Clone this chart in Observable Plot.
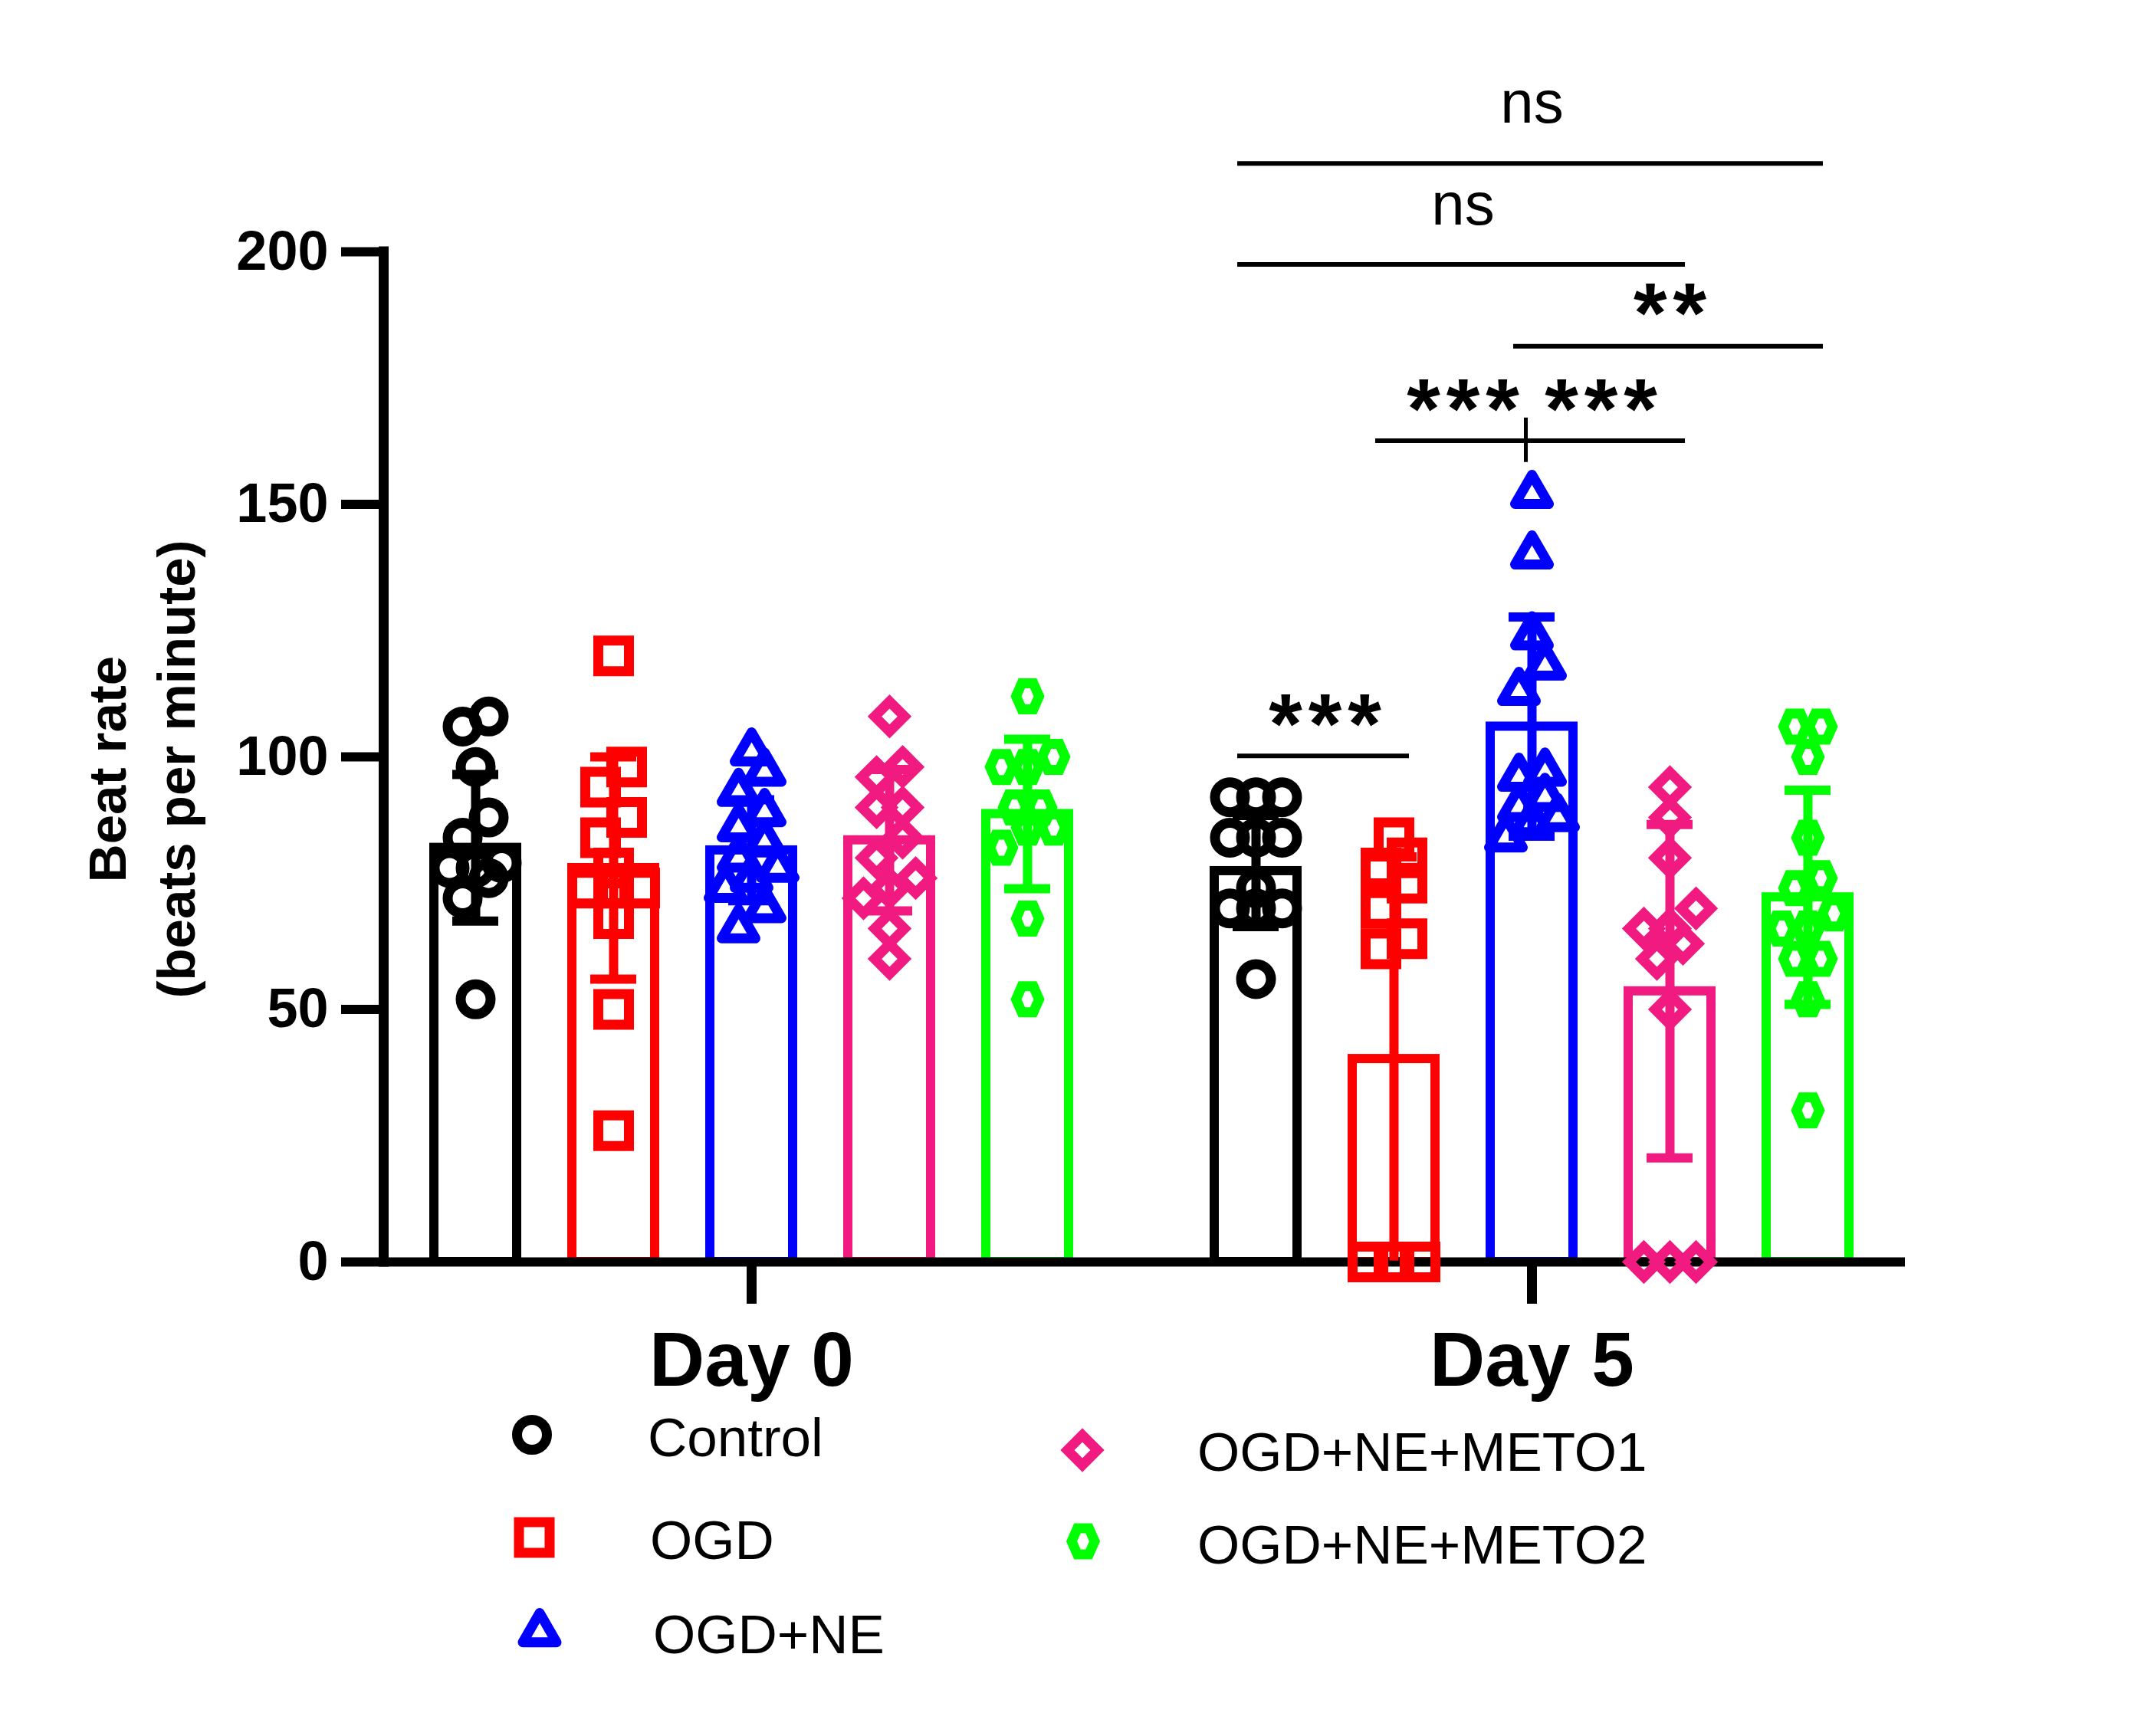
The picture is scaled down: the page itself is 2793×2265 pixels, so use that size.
<!DOCTYPE html>
<html>
<head>
<meta charset="utf-8">
<script src="https://cdn.jsdelivr.net/npm/d3@7"></script>
<script src="https://cdn.jsdelivr.net/npm/@observablehq/plot@0.6"></script>
<style>
  html, body { margin: 0; padding: 0; background: #ffffff; }
  #wrap { width: 2793px; background: #ffffff; }
  #wrap svg { display: block; }
</style>
</head>
<body>
<div id="wrap"></div>
<script>
// ---------------- data ----------------
const days = ["Day 0", "Day 5"];
const groups = ["Control", "OGD", "OGD+NE", "OGD+NE+METO1", "OGD+NE+METO2"];
const colors = ["#000000", "#ff0000", "#0000ff", "#f01a80", "#00ff00"];

// individual beat rates, Day 0
const day0Control = [108, 106, 98, 88, 84, 79, 78, 78, 76, 72, 52];
const day0OGD     = [120, 98, 94, 88, 84, 78, 74, 74, 74, 68, 50, 26];
const day0NE      = [101, 97, 93, 89, 86, 83, 80, 78, 76, 74, 70, 66];
const day0Meto1   = [108, 98, 96, 90, 90, 84, 80, 76, 74, 72, 66, 60];
const day0Meto2   = [112, 100, 98, 98, 90, 90, 86, 86, 82, 68, 52];
// individual beat rates, Day 5
const day5Control = [92, 92, 92, 84, 84, 84, 74, 70, 70, 70, 56];
const day5OGD     = [84, 80, 78, 75, 70, 64, 62, 0, 0, 0, 0, 0, 0];
const day5NE      = [152, 140, 124, 118, 113, 97, 96, 92, 90, 88, 87, 84];
const day5Meto1   = [94, 88, 80, 70, 66, 66, 63, 60, 50, 0, 0, 0];
const day5Meto2   = [106, 106, 100, 84, 76, 74, 69, 66, 66, 60, 60, 52, 30];

// bar heights (mean) and error bars (SD)
const meanDay0 = [82, 78, 81.5, 83.5, 88.7];
const sdDay0   = [14.5, 22, 10, 14, 14.8];
const meanDay5 = [77.4, 40.2, 106, 53.6, 72.2];
const sdDay5   = [11, 40, 21.7, 33, 21.2];

const yTicks = [0, 50, 100, 150, 200];
const yLabel = "Beat rate\n(beats per minute)";

// significance brackets (all within Day 5)
const bracketFrom = ["Control", "Control", "OGD+NE", "OGD", "Control"];
const bracketTo   = ["OGD+NE+METO2", "OGD+NE+METO1", "OGD+NE+METO2", "OGD+NE+METO1", "OGD"];
const bracketY    = [217.5, 197.5, 181.3, 162.6, 100.2];
const splitAt     = ["OGD+NE"];
const splitY1     = [158.3];
const splitY2     = [167.1];
const sigText = ["ns", "ns", "**", "***", "***", "***"];
const sigFrom = ["Control", "Control", "OGD+NE", "OGD", "OGD+NE", "Control"];
const sigTo   = ["OGD+NE+METO2", "OGD+NE+METO1", "OGD+NE+METO2", "OGD+NE", "OGD+NE+METO1", "OGD"];
const sigY    = [228.6, 208.5, 190.3, 171.4, 171.4, 109.0];

// ---------------- layout ----------------
const W = 2793, H = 1832;
const ML = 500, MR = 315, MT = 328, MB = H - 1646;
const FACET_W = 960, FACET_GAP = 58;
const STEP = 180, BAR_W = 108;
const PAD_IN = 1 - BAR_W / STEP;
const PAD_OUT = (FACET_W / STEP - (groups.length - PAD_IN)) / 2;
const PX_PER_UNIT = (H - MB - MT) / 200;
const SPREAD = 34;          // horizontal spacing of overlapping points
const ROW_UNITS = 33 / PX_PER_UNIT;

// ---------------- symbols (open markers) ----------------
const k0 = (size) => Math.sqrt(size / Math.PI) / 20;
const symCircle = {draw(c, s) { const r = 19.5 * k0(s); c.moveTo(r, 0); c.arc(0, 0, r, 0, 2 * Math.PI); c.closePath(); }};
const symSquare = {draw(c, s) { const h = 20 * k0(s); c.moveTo(-h, -h); c.lineTo(h, -h); c.lineTo(h, h); c.lineTo(-h, h); c.closePath(); }};
const symTriangle = {draw(c, s) { const k = k0(s), R = 25.4 * k, hw = 22 * k; c.moveTo(0, -R); c.lineTo(hw, R / 2); c.lineTo(-hw, R / 2); c.closePath(); }};
const symDiamond = {draw(c, s) { const d = 19.5 * k0(s); c.moveTo(0, -d); c.lineTo(d, 0); c.lineTo(0, d); c.lineTo(-d, 0); c.closePath(); }};
const symHexagon = {draw(c, s) { const k = k0(s), rx = 15 * k, ry = 17 * k; c.moveTo(-rx, 0); c.lineTo(-rx / 2, -ry); c.lineTo(rx / 2, -ry); c.lineTo(rx, 0); c.lineTo(rx / 2, ry); c.lineTo(-rx / 2, ry); c.closePath(); }};
const symbols = [symCircle, symSquare, symTriangle, symDiamond, symHexagon];
const joins = ["miter", "miter", "round", "miter", "miter"];

// ---------------- build tables ----------------
const values = {"Day 0": [day0Control, day0OGD, day0NE, day0Meto1, day0Meto2],
                "Day 5": [day5Control, day5OGD, day5NE, day5Meto1, day5Meto2]};
const summary = [];
days.forEach((day, di) => groups.forEach((g, gi) => {
  const m = (di ? meanDay5 : meanDay0)[gi], s = (di ? sdDay5 : sdDay0)[gi];
  summary.push({day, group: g, mean: m, lo: Math.max(0, m - s), hi: m + s});
}));

// scatter spreading: points with similar values share a row and are spread sideways
function spread(vals) {
  const order = vals.map((v, i) => i).sort((a, b) => vals[a] - vals[b]);
  const off = new Array(vals.length);
  let row = [];
  const flush = () => { row.forEach((i, j) => off[i] = (j - (row.length - 1) / 2) * SPREAD); row = []; };
  for (const i of order) {
    if (row.length && (vals[i] - vals[row[0]] >= ROW_UNITS || row.length >= 3)) flush();
    row.push(i);
  }
  flush();
  return off;
}
const points = [];
days.forEach(day => groups.forEach((g, gi) => {
  const vals = values[day][gi];
  const off = spread(vals);
  vals.forEach((v, i) => points.push({day, group: g, gi, value: v, off: off[i]}));
}));

// ---------------- marks ----------------
const marks = [];
// bars
marks.push(Plot.barY(summary, {fx: "day", x: "group", y: "mean", stroke: "group", fill: "none", strokeWidth: 12}));
// axis lines
marks.push(Plot.ruleY([{day: "Day 0"}], {fx: "day", y: 0, stroke: "#000", strokeWidth: 12, insetRight: -FACET_GAP}));
marks.push(Plot.ruleY([{day: "Day 5"}], {fx: "day", y: 0, stroke: "#000", strokeWidth: 12, insetRight: -7}));
marks.push(Plot.ruleX([{day: "Day 0"}], {fx: "day", x: null, y1: 0, y2: 200, dx: -FACET_W / 2, stroke: "#000", strokeWidth: 13, strokeLinecap: "square"}));
marks.push(Plot.axisY({ticks: yTicks, tickSize: 55, tickPadding: 17, strokeWidth: 12, fontSize: 72, fontWeight: "bold", label: null}));
marks.push(Plot.axisFx({anchor: "bottom", tickSize: 55, tickPadding: 35, strokeWidth: 13, fontSize: 100, fontWeight: "bold", label: null}));
marks.push(Plot.text([{day: "Day 0", label: yLabel}], {fx: "day", text: "label", frameAnchor: "left", textAnchor: "middle", lineAnchor: "middle", rotate: -90, dx: -320, dy: 16, fontSize: 69, fontWeight: "bold", lineHeight: 1.3}));

// points, one mark per (group, sideways offset)
const byKey = d3.group(points, d => d.gi, d => d.off);
for (const [gi, m] of byKey) {
  for (const [off, pts] of m) {
    marks.push(Plot.dot(pts, {fx: "day", x: "group", y: "value", dx: off, r: 20, symbol: symbols[gi],
      stroke: "group", fill: "none", strokeWidth: 13, strokeLinejoin: joins[gi]}));
  }
}
// error bars
marks.push(Plot.ruleX(summary, {fx: "day", x: "group", y1: "lo", y2: "hi", stroke: "group", strokeWidth: 12}));
marks.push(Plot.tickY(summary, {fx: "day", x: "group", y: "hi", stroke: "group", strokeWidth: 12, inset: 24}));
marks.push(Plot.tickY(summary.filter(d => d.lo > 1), {fx: "day", x: "group", y: "lo", stroke: "group", strokeWidth: 12, inset: 24}));

// significance brackets
const brackets = bracketFrom.map((a, i) => ({day: "Day 5", a, b: bracketTo[i], y: bracketY[i]}));
marks.push(Plot.ruleY(brackets, {fx: "day", x1: "a", x2: "b", y: "y", stroke: "#000", strokeWidth: 6, insetLeft: 30, insetRight: 34}));
marks.push(Plot.ruleX(splitAt.map((g, i) => ({day: "Day 5", g, y1: splitY1[i], y2: splitY2[i]})), {fx: "day", x: "g", y1: "y1", y2: "y2", stroke: "#000", strokeWidth: 5, dx: -8}));
sigText.forEach((t, i) => {
  const shift = (groups.indexOf(sigTo[i]) - groups.indexOf(sigFrom[i])) * STEP / 2;
  const isNs = t === "ns";
  const fs = isNs ? 78 : 112;
  marks.push(Plot.text([{day: "Day 5", g: sigFrom[i], y: sigY[i], t}], {fx: "day", x: "g", y: "y", text: "t",
    dx: shift + (isNs ? 0 : 4), dy: isNs ? -0.06 * fs : 0.17 * fs, fontSize: fs, fontWeight: isNs ? "normal" : "bold",
    fontFamily: isNs ? "'Liberation Sans Narrow', 'Liberation Sans', Arial, sans-serif" : "'Liberation Sans', Arial, sans-serif",
    textAnchor: "middle", lineAnchor: "middle"}));
});

const chart = Plot.plot({
  width: W, height: H,
  marginTop: MT, marginBottom: MB, marginLeft: ML, marginRight: MR,
  style: {fontFamily: "'Liberation Sans', Arial, sans-serif", background: "#ffffff", color: "#000000", overflow: "visible"},
  fx: {domain: days, paddingInner: FACET_GAP / (FACET_W + FACET_GAP), paddingOuter: 0, label: null},
  x: {domain: groups, paddingInner: PAD_IN, paddingOuter: PAD_OUT, axis: null},
  y: {domain: [0, 200], label: null},
  color: {domain: groups, range: colors},
  marks
});
// spread the significance asterisks a little, as in the original figure
d3.select(chart).selectAll("text").filter(function () { return /^\*+$/.test(this.textContent); })
  .style("letter-spacing", "8px");
document.getElementById("wrap").appendChild(chart);

// ---------------- legend (below the chart) ----------------
const legX = [694, 697, 704, 1412, 1413];
const legY = [1872, 2006, 2130, 1892, 2011];
const legTextX = [845, 848, 852, 1562, 1562];
const legBase = [1900, 2034, 2157, 1919, 2040];
const LH = 2265 - H;
const leg = d3.create("svg").attr("width", W).attr("height", LH).attr("viewBox", `0 ${H} ${W} ${LH}`)
  .style("font-family", "'Liberation Sans', Arial, sans-serif").style("background", "#ffffff");
groups.forEach((g, i) => {
  leg.append("path").attr("d", d3.symbol(symbols[i], Math.PI * 400)())
    .attr("transform", `translate(${legX[i]},${legY[i]})`)
    .attr("fill", "none").attr("stroke", colors[i]).attr("stroke-width", 13).attr("stroke-linejoin", joins[i]);
  leg.append("text").attr("x", legTextX[i]).attr("y", legBase[i]).attr("font-size", 71).attr("fill", "#000").text(g);
});
document.getElementById("wrap").appendChild(leg.node());
</script>
</body>
</html>
